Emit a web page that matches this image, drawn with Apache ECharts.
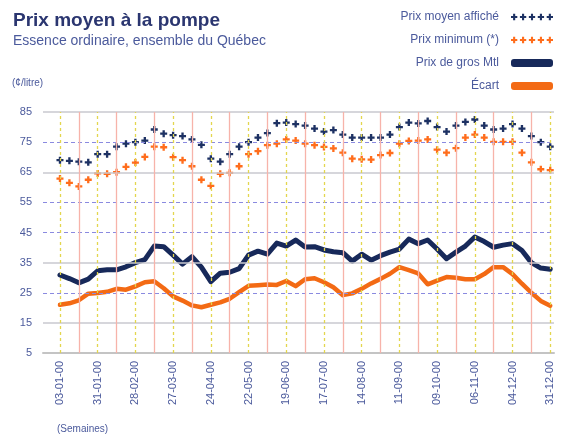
<!DOCTYPE html>
<html>
<head>
<meta charset="utf-8">
<script src="https://cdn.jsdelivr.net/npm/echarts@6/dist/echarts.min.js"></script>
<style>
    html, body { margin: 0; padding: 0; background: #fff; }
    #chart { width: 568px; height: 436px; }
</style>
</head>
<body>
<div id="chart"></div>
<script>
    // semaines de l'an 2000, une valeur par semaine (¢/litre)
    var tickWeeks = [0, 4, 8, 12, 16, 20, 24, 28, 32, 36, 40, 44, 48, 52];
    var tickLabels = ['03-01-00', '31-01-00', '28-02-00', '27-03-00', '24-04-00', '22-05-00', '19-06-00',
        '17-07-00', '14-08-00', '11-09-00', '09-10-00', '06-11-00', '04-12-00', '31-12-00'];
    var yTicks = [5, 15, 25, 35, 45, 55, 65, 75, 85];

    var prixMoyen = [69, 68.8, 68.5, 68.3, 71, 71, 73.5, 74.5, 75, 75.5,
        79.2, 77.8, 77.3, 77, 75.9, 74.1, 69.5, 68.5, 71, 73.5,
        75, 76.5, 78, 81.3, 81.5, 81, 80.5, 79.5, 78.5, 79,
        77.5, 76.5, 76.5, 76.5, 76.5, 77.5, 80, 81.5, 81.2, 82,
        80, 78.5, 80.5, 81.7, 82.5, 80.5, 79.2, 79.5, 81, 79.5,
        77, 75, 73.5];
    var prixMinimum = [62.9, 61.5, 60.3, 62.5, 64.6, 64.5, 65, 66.8, 68.2, 70.1,
        73.5, 73.3, 70, 69, 67, 62.5, 60.5, 64.5, 64.8, 67,
        71, 72, 74, 74.5, 75.9, 75.5, 74.5, 74, 73.4, 72.9,
        71.5, 69.5, 69.3, 69.2, 70.7, 71.4, 74.5, 75.4, 75.5, 75.9,
        72.5, 71.5, 73, 76.5, 77.5, 76.5, 75.1, 75.1, 75.1, 71.5,
        68.3, 66, 65.7];
    var prixGros = [30.9, 29.7, 28.3, 29.5, 32.3, 32.6, 32.6, 33.6, 35, 36,
        40.5, 40.3, 37.5, 34.5, 37, 33.5, 28.7, 31.5, 31.8, 33,
        37.5, 38.8, 37.8, 41.5, 40.5, 42.5, 40.2, 40.3, 39.2, 38.6,
        38.3, 35.5, 37.8, 35.8, 37.3, 38.5, 39.5, 42.8, 41.3, 42.5,
        39.5, 36.3, 38.5, 40.5, 43.5, 42, 40.1, 40.8, 41.3, 39,
        35, 33.2, 32.8];
    var ecart = [21, 21.5, 22.5, 24.7, 24.9, 25.3, 26.3, 26, 27.1, 28.5,
        28.8, 26.5, 23.8, 22.4, 20.8, 20.2, 21, 21.8, 23, 25.2,
        27.3, 27.5, 27.7, 27.6, 28.9, 27.2, 29.5, 29.8, 28.5, 26.8,
        24.2, 24.8, 26.3, 28.1, 29.6, 31.3, 33.5, 32.5, 31.4, 27.8,
        29, 30.2, 30, 29.5, 29.5, 31.2, 33.5, 33.5, 31.2, 28,
        25, 22.3, 20.7];

    // lignes de la grille
    var solidLines = [85, 65, 35, 15];
    var dashedLines = [75, 55, 45, 25];
    var redWeeks = [2, 6, 10, 14, 18, 22, 26, 30, 34, 38, 42, 46, 50];

    var font = 'Liberation Sans, Arial, sans-serif';
    var textBlue = '#4b5a9c';

    // petite croix pour les marqueurs
    var plus = 'path://M2,0L4,0L4,2L6,2L6,4L4,4L4,6L2,6L2,4L0,4L0,2L2,2Z';
    var plusRow = 'path://';
    for (var k = 0; k < 5; k++) {
        var c = 4 + k * 8.5;
        plusRow += 'M' + (c - 1) + ',1L' + (c + 1) + ',1L' + (c + 1) + ',3L' + (c + 3) + ',3L' + (c + 3) + ',5L' +
            (c + 1) + ',5L' + (c + 1) + ',7L' + (c - 1) + ',7L' + (c - 1) + ',5L' + (c - 3) + ',5L' + (c - 3) + ',3L' +
            (c - 1) + ',3Z';
    }
    var bar = 'path://M3,0L39,0Q42,0 42,3L42,5Q42,8 39,8L3,8Q0,8 0,5L0,3Q0,0 3,0Z';

    function pairs(arr) {
        return arr.map(function (v, i) { return [i, v]; });
    }

    var gridMarks = [];
    solidLines.forEach(function (v) {
        gridMarks.push({yAxis: v, lineStyle: {color: '#c9c9cf', width: 1.5, type: 'solid'}});
    });
    dashedLines.forEach(function (v) {
        gridMarks.push({yAxis: v, lineStyle: {color: '#8a8ae0', width: 1.2, type: [4, 3]}});
    });
    redWeeks.forEach(function (w) {
        gridMarks.push({xAxis: w, lineStyle: {color: '#f7b3aa', width: 1.3, type: 'solid'}});
    });
    tickWeeks.forEach(function (w) {
        gridMarks.push({xAxis: w, lineStyle: {color: '#e3d64e', width: 1.3, type: [3, 3]}});
    });

    var myChart = echarts.init(document.getElementById('chart'));
    var option = {
        animation: false,
        title: {
            left: 8,
            top: 6,
            text: 'Prix moyen à la pompe',
            subtext: 'Essence ordinaire, ensemble du Québec',
            itemGap: 4,
            textStyle: {fontFamily: font, fontSize: 19, fontWeight: 'bold', color: '#2b3670'},
            subtextStyle: {fontFamily: font, fontSize: 14, color: textBlue}
        },
        legend: {
            orient: 'vertical',
            right: 15,
            top: 11,
            padding: 0,
            align: 'right',
            itemWidth: 42,
            itemHeight: 8,
            itemGap: 11,
            textStyle: {fontFamily: font, fontSize: 12, color: textBlue, padding: [0, 7, 0, 0]},
            data: [
                {name: 'Prix moyen affiché', icon: plusRow, itemStyle: {color: '#1d3163'}},
                {name: 'Prix minimum (*)', icon: plusRow, itemStyle: {color: '#ff6d1c'}},
                {name: 'Prix de gros Mtl', icon: bar, itemStyle: {color: '#17295a'}},
                {name: 'Écart', icon: bar, itemStyle: {color: '#f36a14'}}
            ]
        },
        graphic: [
            {type: 'text', left: 12, top: 78, style: {text: '(¢/litre)', font: '10px ' + font, fill: textBlue}},
            {type: 'text', left: 57, top: 424, style: {text: '(Semaines)', font: '10px ' + font, fill: textBlue}}
        ],
        grid: {left: 43, right: 14, top: 112, bottom: 83},
        xAxis: {
            type: 'value',
            min: -1.8,
            max: 52.4,
            splitLine: {show: false},
            axisTick: {show: false},
            axisLine: {show: true, lineStyle: {color: '#c4c4c4', width: 2}},
            axisLabel: {
                customValues: tickWeeks,
                rotate: 90,
                margin: 8,
                fontFamily: font,
                fontSize: 11,
                color: textBlue,
                formatter: function (v) {
                    var i = tickWeeks.indexOf(v);
                    return i >= 0 ? tickLabels[i] : '';
                }
            }
        },
        yAxis: {
            type: 'value',
            min: 5,
            max: 85,
            splitLine: {show: false},
            axisLine: {show: false},
            axisTick: {show: false},
            axisLabel: {
                customValues: yTicks,
                margin: 11,
                fontFamily: font,
                fontSize: 11,
                color: textBlue
            }
        },
        series: [
            {
                name: 'grille',
                type: 'line',
                data: [],
                z: 1,
                silent: true,
                markLine: {silent: true, symbol: ['none', 'none'], label: {show: false}, data: gridMarks}
            },
            {
                name: 'Prix moyen affiché',
                type: 'line',
                z: 3,
                data: pairs(prixMoyen),
                lineStyle: {opacity: 0},
                symbol: plus,
                symbolSize: 7,
                showAllSymbol: true,
                itemStyle: {color: '#1d3163'}
            },
            {
                name: 'Prix minimum (*)',
                type: 'line',
                z: 3,
                data: pairs(prixMinimum),
                lineStyle: {opacity: 0},
                symbol: plus,
                symbolSize: 7,
                showAllSymbol: true,
                itemStyle: {color: '#ff6d1c'}
            },
            {
                name: 'Prix de gros Mtl',
                type: 'line',
                z: 3,
                data: pairs(prixGros),
                showSymbol: false,
                lineStyle: {color: '#17295a', width: 5, join: 'round', cap: 'round'},
                itemStyle: {color: '#17295a'}
            },
            {
                name: 'Écart',
                type: 'line',
                z: 3,
                data: pairs(ecart),
                showSymbol: false,
                lineStyle: {color: '#f36a14', width: 4.5, join: 'round', cap: 'round'},
                itemStyle: {color: '#f36a14'}
            }
        ]
    };
    myChart.setOption(option);
</script>
</body>
</html>
